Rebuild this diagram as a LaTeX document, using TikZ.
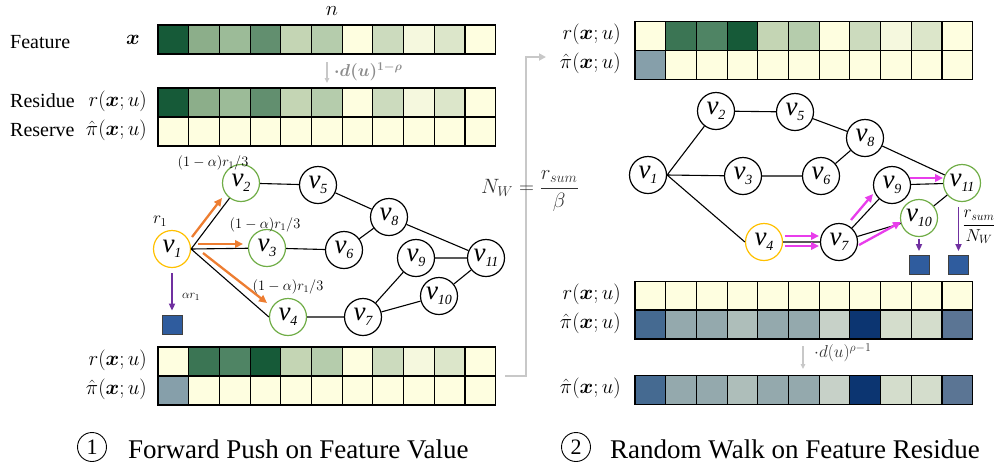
\documentclass[tikz,border=0pt]{standalone}
\usepackage{amsmath}
\usepackage{fontspec}
\setmainfont{Liberation Serif}
\usetikzlibrary{arrows.meta,calc}

% cell fills: greens for feature / residue values, blues for reserves
\definecolor{fy}{HTML}{FEFEE0}
\definecolor{g1}{HTML}{165A38}
\definecolor{g2}{HTML}{8CAE8A}
\definecolor{g3}{HTML}{9CBB98}
\definecolor{g4}{HTML}{628F6F}
\definecolor{g5}{HTML}{C4D5B4}
\definecolor{g6}{HTML}{B5CCAC}
\definecolor{g8}{HTML}{CCDBBE}
\definecolor{g9}{HTML}{F5F8DE}
\definecolor{g10}{HTML}{DCE6CA}
\definecolor{gB}{HTML}{3B7554}
\definecolor{gC}{HTML}{4F8464}
\definecolor{bA}{HTML}{869FAA}
\definecolor{b1}{HTML}{456A91}
\definecolor{b2}{HTML}{94A9AD}
\definecolor{b4}{HTML}{AEBEBA}
\definecolor{b7}{HTML}{C7D1C8}
\definecolor{b8}{HTML}{0C3571}
\definecolor{b9}{HTML}{D4DDCC}
\definecolor{b11}{HTML}{5B7594}
% graph colours
\definecolor{srcorange}{HTML}{FFC000}
\definecolor{hitgreen}{HTML}{70AD47}
\definecolor{pushorange}{HTML}{ED7D31}
\definecolor{walkpink}{HTML}{E83DEB}
\definecolor{absorbpurple}{HTML}{7030A0}
\definecolor{sinkblue}{HTML}{2F5C9E}
\definecolor{flowgray}{HTML}{C8C8C8}
\definecolor{notegray}{HTML}{8C8C8C}

\newcommand\fs[1]{\fontsize{#1}{#1}\selectfont}
\newcommand\vlab[1]{{\fs{27}\itshape v\raisebox{-5pt}{\fs{14}#1}}}
% one row of eleven cells: name, west x, north y, fill list
\newcommand\cellrow[4]{%
  \foreach \col [count=\i] in {#4}{
    \node[cell, fill=\col] (#1-\i) at ({#2+(\i-1)*30.7}, #3) {};
  }}

\begin{document}
\begin{tikzpicture}[x=1pt, y=-1pt,
  cell/.style={draw, line width=1.1pt, minimum width=30.7pt, minimum height=29pt,
    inner sep=0pt, outer sep=0pt, anchor=north west},
  gnode/.style={circle, draw, line width=1.2pt, minimum size=37pt, inner sep=0pt},
  srcnode/.style={gnode, draw=srcorange},
  hitnode/.style={gnode, draw=hitgreen},
  edge/.style={line width=1.1pt},
  push/.style={pushorange, line width=2.3pt, -{Triangle[length=8pt,width=7.5pt]}},
  walk/.style={walkpink, line width=2.3pt, -{Triangle[length=8pt,width=7.5pt]}},
  absorb/.style={absorbpurple, line width=1.8pt, -{Triangle[length=7pt,width=6pt]}},
  sink/.style={fill=sinkblue, draw=black!75, line width=0.8pt,
    minimum width=20pt, minimum height=19pt, inner sep=0pt},
  scalearrow/.style={flowgray, line width=1.3pt, -{Triangle[length=5pt,width=4.5pt]}},
  feed/.style={flowgray, line width=2.3pt, -{Triangle[length=7pt,width=7pt]}},
  rowlab/.style={anchor=east, font=\fs{20.5}, inner sep=0pt,
    text height=11pt, text depth=4pt},
  wordlab/.style={anchor=base west, font=\fs{20}, inner sep=0pt},
  steplab/.style={anchor=base west, font=\fs{27}, inner sep=0pt},
  stepnum/.style={circle, draw, line width=0.9pt, minimum size=29pt, inner sep=0pt, font=\fs{22}},
  ]
\useasboundingbox (0,0) rectangle (997,467);

% ---------------- step 1: forward push ----------------
\node[font=\fs{20}] (nlab) at (332,11) {$n$};
\node[wordlab] (wfeat) at (10,48) {Feature};
\node[wordlab] (wres) at (10,107) {Residue};
\node[wordlab] (wrsv) at (10,136) {Reserve};
\node[font=\fs{22}] (xlab) at (133,40) {$\boldsymbol{x}$};
\node[rowlab] (lr1) at (147,102.5) {$r(\boldsymbol{x};u)$};
\node[rowlab] (lp1) at (147,131.5) {$\hat{\pi}(\boldsymbol{x};u)$};

\cellrow{fx}{158}{25}{g1,g2,g3,g4,g5,g6,fy,g8,g9,g10,fy}
\cellrow{rs}{158}{88}{g1,g2,g3,g4,g5,g6,fy,g8,g9,g10,fy}
\cellrow{rv}{158}{117}{fy,fy,fy,fy,fy,fy,fy,fy,fy,fy,fy}

\coordinate (sa0) at (327,62);
\coordinate (sa1) at (327,83);
\draw[scalearrow] (sa0) -- (sa1);
\node[notegray, font=\fs{17}, anchor=west, inner sep=0pt] (sal) at (334,72)
  {$\boldsymbol{\cdot d(u)^{1-\rho}}$};

% graph
\node[srcnode] (L1) at (172,249) {\vlab{1}};
\node[hitnode] (L2) at (241,183) {\vlab{2}};
\node[hitnode] (L3) at (267,248) {\vlab{3}};
\node[hitnode] (L4) at (288,317) {\vlab{4}};
\node[gnode] (L5) at (318,185) {\vlab{5}};
\node[gnode] (L6) at (344,250) {\vlab{6}};
\node[gnode] (L7) at (363,317) {\vlab{7}};
\node[gnode] (L8) at (389,217) {\vlab{8}};
\node[gnode] (L9) at (416,258) {\vlab{9}};
\node[gnode] (L10) at (439,296) {\vlab{10}};
\node[gnode] (L11) at (486,258) {\vlab{11}};
\draw[edge] (L1.east) -- (L2) (L1.east) -- (L3) (L1.east) -- (L4.west)
  (L2) -- (L5) (L5) -- (L8) (L3) -- (L6) (L6) -- (L8) (L8) -- (L11)
  (L4) -- (L7) (L7) -- (L9) (L7) -- (L10) (L9) -- (L11) (L10) -- (L11);

\coordinate (pa1) at (192,237); \coordinate (pb1) at (222,198);
\coordinate (pa2) at (198,244); \coordinate (pb2) at (243,244);
\coordinate (pa3) at (203,253); \coordinate (pb3) at (267,303);
\draw[push] (pa1) -- (pb1);
\draw[push] (pa2) -- (pb2);
\draw[push] (pa3) -- (pb3);
\node[font=\fs{14}] (q1) at (213,163) {$(1-\alpha)r_1/3$};
\node[font=\fs{14}] (q2) at (265,225) {$(1-\alpha)r_1/3$};
\node[font=\fs{14}] (q3) at (288,287) {$(1-\alpha)r_1/3$};
\node[font=\fs{17}] (r1lab) at (160,221) {$r_1$};

\node[sink] (S1) at (172,324.5) {};
\coordinate (ab1) at (172,273);
\draw[absorb, shorten >=4pt] (ab1) -- (S1);
\node[font=\fs{13}] (ar1) at (191,297) {$\alpha r_1$};

\node[rowlab] (lr2) at (147,361.5) {$r(\boldsymbol{x};u)$};
\node[rowlab] (lp2) at (147,390.5) {$\hat{\pi}(\boldsymbol{x};u)$};
\cellrow{br}{158}{347}{fy,gB,gC,g1,g5,g6,fy,g8,g9,g10,fy}
\cellrow{bp}{158}{376}{bA,fy,fy,fy,fy,fy,fy,fy,fy,fy,fy}

\node[stepnum] (c1) at (92,447) {1};
\node[steplab] (t1) at (128,458) {Forward Push on Feature Value};

% ---------------- hand-over between steps ----------------
\coordinate (f0) at (505,376);
\coordinate (fk) at (526,57);
\coordinate (f1) at (546,57);
\draw[feed] (f0) -| (fk) -- (f1);
\node[black!80, font=\fs{21}] (nw) at (530,191) {$N_W=\dfrac{r_{sum}}{\beta}$};

% ---------------- step 2: random walk ----------------
\node[rowlab] (lr3) at (621,36) {$r(\boldsymbol{x};u)$};
\node[rowlab] (lp3) at (621,65) {$\hat{\pi}(\boldsymbol{x};u)$};
\cellrow{tr}{635}{21.5}{fy,gB,gC,g1,g5,g6,fy,g8,g9,g10,fy}
\cellrow{tp}{635}{50.5}{bA,fy,fy,fy,fy,fy,fy,fy,fy,fy,fy}

\node[gnode] (R1) at (648,175) {\vlab{1}};
\node[gnode] (R2) at (716,111) {\vlab{2}};
\node[gnode] (R3) at (743,176) {\vlab{3}};
\node[srcnode] (R4) at (764,242) {\vlab{4}};
\node[gnode] (R5) at (795,112) {\vlab{5}};
\node[gnode] (R6) at (821,176) {\vlab{6}};
\node[gnode] (R7) at (839,242) {\vlab{7}};
\node[gnode] (R8) at (865,138) {\vlab{8}};
\node[gnode] (R9) at (892,185) {\vlab{9}};
\node[hitnode] (R10) at (919,218) {\vlab{10}};
\node[hitnode] (R11) at (962,183) {\vlab{11}};
\draw[edge] (R1.east) -- (R2) (R1.east) -- (R3) (R1.east) -- (R4.west)
  (R2) -- (R5) (R5) -- (R8) (R3) -- (R6) (R6) -- (R8) (R8) -- (R11)
  (R4) -- (R7) (R7) -- (R9) (R7) -- (R10) (R9) -- (R11) (R10) -- (R11);

\coordinate (wa1) at (785,236); \coordinate (wb1) at (819,236);
\coordinate (wa2) at (785,246); \coordinate (wb2) at (819,246);
\coordinate (wa3) at (851,220); \coordinate (wb3) at (873,194);
\coordinate (wa4) at (859,245); \coordinate (wb4) at (901,222);
\coordinate (wa5) at (910,178); \coordinate (wb5) at (943,178);
\draw[walk] (wa1) -- (wb1);
\draw[walk] (wa2) -- (wb2);
\draw[walk] (wa3) -- (wb3);
\draw[walk] (wa4) -- (wb4);
\draw[walk] (wa5) -- (wb5);

\node[sink] (S2) at (919,265) {};
\node[sink] (S3) at (958.5,265) {};
\coordinate (ab2) at (919,239);
\coordinate (ab3) at (958.5,207);
\draw[absorb, shorten >=4pt] (ab2) -- (S2);
\draw[absorb, shorten >=4pt] (ab3) -- (S3);
\node[font=\fs{17}] (rn) at (979,227) {$\dfrac{r_{sum}}{N_W}$};

\node[rowlab] (lr4) at (621,296) {$r(\boldsymbol{x};u)$};
\node[rowlab] (lp4) at (621,324.5) {$\hat{\pi}(\boldsymbol{x};u)$};
\cellrow{mr}{635}{281.5}{fy,fy,fy,fy,fy,fy,fy,fy,fy,fy,fy}
\cellrow{mp}{635}{310}{b1,b2,b2,b4,b2,b2,b7,b8,b9,b9,b11}

\coordinate (sb0) at (803,346);
\coordinate (sb1) at (803,369);
\draw[scalearrow] (sb0) -- (sb1);
\node[black!80, font=\fs{18}, anchor=west, inner sep=0pt] (sbl) at (814,353)
  {$\cdot d(u)^{\rho-1}$};

\node[rowlab] (lp5) at (621,390) {$\hat{\pi}(\boldsymbol{x};u)$};
\cellrow{fp}{635}{375.5}{b1,b2,b2,b4,b2,b2,b7,b8,b9,b9,b11}

\node[stepnum] (c2) at (576,447) {2};
\node[steplab] (t2) at (610,458) {Random Walk on Feature Residue};
\end{tikzpicture}
\end{document}
